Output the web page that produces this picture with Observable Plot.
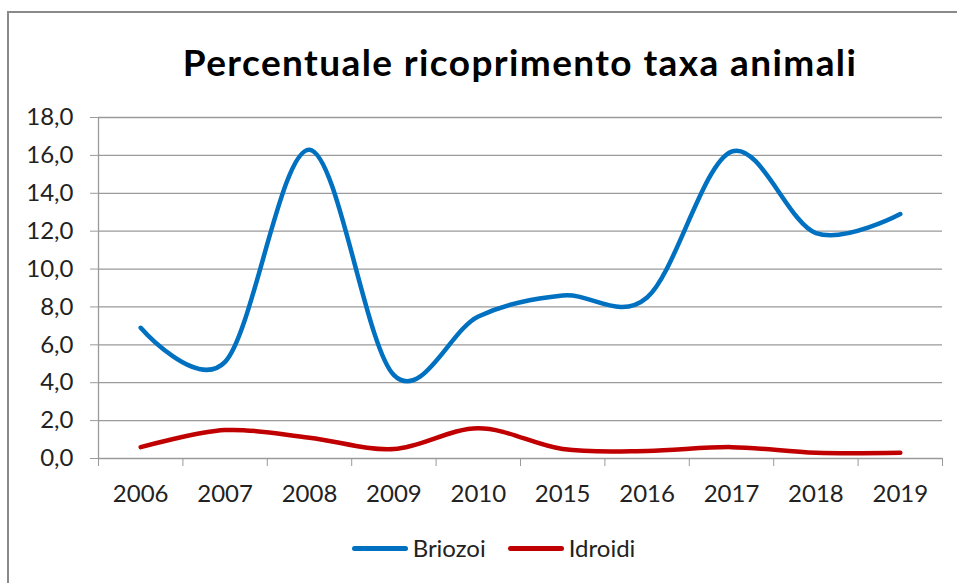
<!DOCTYPE html>
<html>
<head>
<meta charset="utf-8">
<script src="https://cdn.jsdelivr.net/npm/d3@7"></script>
<script src="https://cdn.jsdelivr.net/npm/@observablehq/plot@0.6"></script>
<style>
  html, body { margin: 0; padding: 0; background: #fff; }
  #wrap { position: relative; width: 957px; height: 583px; overflow: hidden; background: #fff; font-family: Lato, "Open Sans", sans-serif; }
  #frame { position: absolute; left: 7px; top: 11px; width: 2000px; height: 2000px; border: 2px solid #8a8a8a; box-sizing: border-box; }
  #title { position: absolute; left: 98px; width: 844px; top: 40px; text-align: center; font-weight: bold; font-size: 37px; letter-spacing: 1.4px; color: #000; line-height: 44px; }
  #chart { position: absolute; left: 0; top: 0; }
  #legend { position: absolute; top: 534px; left: 0; width: 957px; display: flex; justify-content: center; padding-left: 30px; box-sizing: border-box; font-size: 24px; color: #222; line-height: 28px; }
  .item { display: flex; align-items: center; margin: 0 11px; }
  .sw { width: 56px; height: 5px; border-radius: 3px; margin-right: 5px; }
</style>
</head>
<body>
<div id="wrap">
  <div id="frame"></div>
  <div id="title">Percentuale ricoprimento taxa animali</div>
  <div id="chart"></div>
  <div id="legend"></div>
</div>
<script>
const years = ["2006", "2007", "2008", "2009", "2010", "2015", "2016", "2017", "2018", "2019"];
const briozoi = [6.9, 5.1, 16.3, 4.4, 7.5, 8.6, 8.5, 16.2, 11.9, 12.9];
const idroidi = [0.6, 1.5, 1.1, 0.5, 1.6, 0.5, 0.4, 0.6, 0.3, 0.3];
const seriesNames = ["Briozoi", "Idroidi"];
const seriesColors = ["#0070C0", "#C00000"];
const yTicks = [0, 2, 4, 6, 8, 10, 12, 14, 16, 18];

const rows = [];
[briozoi, idroidi].forEach((vals, s) => {
  vals.forEach((v, i) => rows.push({i, year: years[i], value: v, series: seriesNames[s]}));
});

const n = years.length;
const xDomain = [-0.5, n - 0.5];
const boundaries = d3.range(n + 1).map(k => k - 0.5);
const centers = d3.range(n);
const fmt = d => d.toFixed(1).replace(".", ",");
const smooth = d3.curveCardinal.tension(0);

const chart = Plot.plot({
  width: 957,
  height: 520,
  marginLeft: 98,
  marginRight: 15,
  marginTop: 117,
  marginBottom: 62,
  style: {fontFamily: "Lato, 'Open Sans', sans-serif", fontSize: "24px", color: "#222", background: "transparent"},
  x: {type: "linear", domain: xDomain},
  y: {domain: [0, 18]},
  color: {domain: seriesNames, range: seriesColors},
  marks: [
    Plot.gridY(yTicks, {stroke: "#9a9a9a", strokeOpacity: 1, strokeWidth: 1.3}),
    Plot.ruleX([xDomain[0]], {stroke: "#9a9a9a", strokeWidth: 1.3}),
    Plot.axisY(yTicks, {tickSize: 8, tickPadding: 17, tickFormat: fmt, stroke: "#9a9a9a", label: null}),
    Plot.axisX(boundaries, {tickSize: 8, tickFormat: () => "", stroke: "#9a9a9a", label: null}),
    Plot.axisX(centers, {tickSize: 0, tickPadding: 26, tickFormat: i => years[i], label: null}),
    Plot.lineY(rows, {x: "i", y: "value", z: "series", stroke: "series", strokeWidth: 4.5, curve: smooth, strokeLinecap: "round", strokeLinejoin: "round"})
  ]
});
document.getElementById("chart").appendChild(chart);

const legend = document.getElementById("legend");
seriesNames.forEach((name, k) => {
  const item = document.createElement("div");
  item.className = "item";
  const sw = document.createElement("div");
  sw.className = "sw";
  sw.style.background = seriesColors[k];
  const label = document.createElement("span");
  label.textContent = name;
  item.appendChild(sw);
  item.appendChild(label);
  legend.appendChild(item);
});
</script>
</body>
</html>
